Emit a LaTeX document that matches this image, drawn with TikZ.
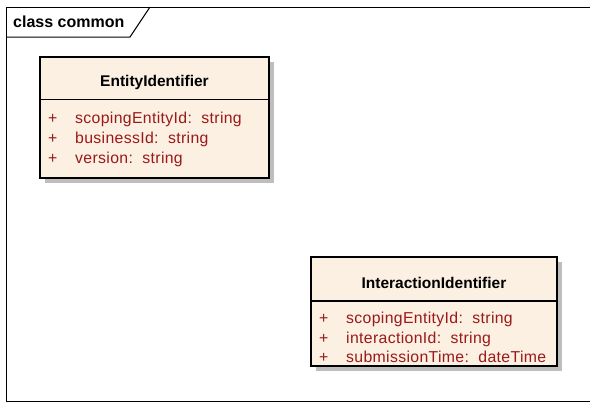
\documentclass[tikz,border=0pt]{standalone}
\usepackage{fontspec}
\setmainfont{Liberation Sans}
\definecolor{boxfill}{RGB}{251,240,226}
\definecolor{attrred}{RGB}{155,25,25}
\definecolor{shadowgray}{RGB}{190,190,190}
\begin{document}
\begin{tikzpicture}[x=1pt,y=-1pt,
  frameline/.style={draw=black,line width=1pt},
  classbox/.style={draw=black,line width=1.3pt,fill=boxfill},
  shadowbox/.style={fill=shadowgray,draw=none},
  title/.style={font=\fontsize{15.5}{18}\selectfont\bfseries,anchor=base},
  attr/.style={font=\fontsize{15.8}{19}\selectfont\addfontfeature{LetterSpace=2.2},text=attrred,anchor=base west,inner sep=0pt},
  tabtext/.style={font=\fontsize{16}{19}\selectfont\bfseries,anchor=base west,inner sep=0pt}]
\useasboundingbox (0,0) rectangle (590,405);
\fill[white] (0,0) rectangle (590,405);
% frame
\draw[frameline] (600,7) -- (6,7) -- (6,401.5) -- (600,401.5);
\draw[frameline] (6,37) -- (130,37) -- (150,7);
\node[tabtext] (tab) at (13,27) {class common};
% EntityIdentifier
\fill[shadowbox] (45,62) rectangle (274,183);
\draw[classbox] (40,57) rectangle (269,178);
\draw[line width=1.3pt] (40,99.5) -- (269,99.5);
\node[title] (e1) at (154.5,86) {EntityIdentifier};
\node[attr] (e1p1) at (48,123) {+};
\node[attr] (e1a1) at (75,123) {scopingEntityId:\ \ string};
\node[attr] (e1p2) at (48,143) {+};
\node[attr] (e1a2) at (75,143) {businessId:\ \ string};
\node[attr] (e1p3) at (48,163) {+};
\node[attr] (e1a3) at (75,163) {version:\ \ string};
% InteractionIdentifier
\fill[shadowbox] (316,262) rectangle (562,371);
\draw[classbox] (311,257) rectangle (557,366);
\draw[line width=1.3pt] (311,301) -- (557,301);
\node[title] (e2) at (434,288) {InteractionIdentifier};
\node[attr] (e2p1) at (319,323) {+};
\node[attr] (e2a1) at (346,323) {scopingEntityId:\ \ string};
\node[attr] (e2p2) at (319,343) {+};
\node[attr] (e2a2) at (346,343) {interactionId:\ \ string};
\node[attr] (e2p3) at (319,362) {+};
\node[attr] (e2a3) at (346,362) {submissionTime:\ \ dateTime};
\end{tikzpicture}
\end{document}
